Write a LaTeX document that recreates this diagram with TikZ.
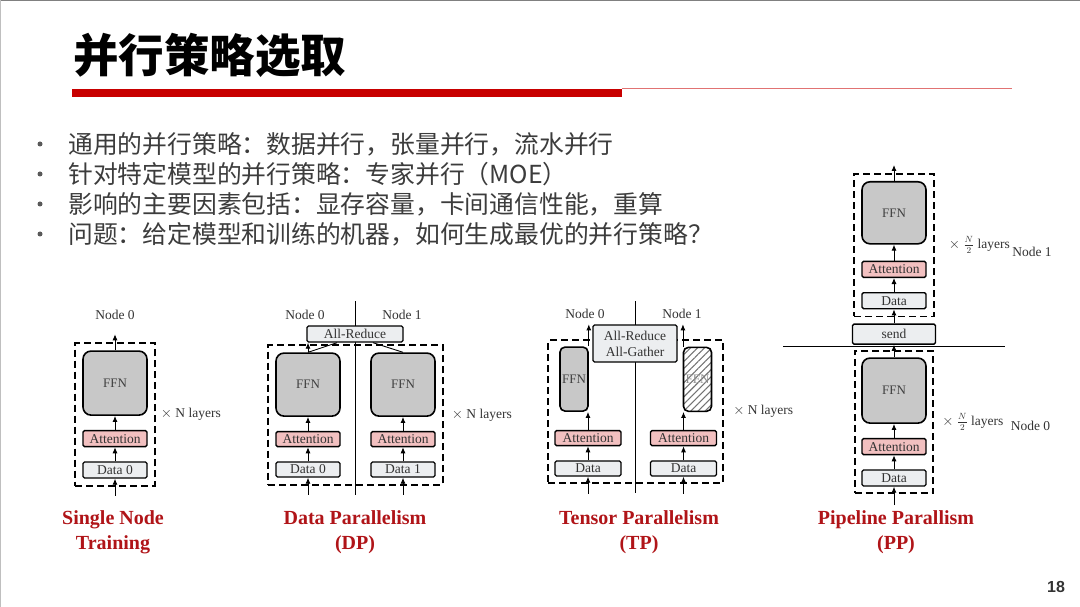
\documentclass[tikz,border=0pt]{standalone}
\usepackage{fontspec}
\usepackage{amsmath}
\setmainfont{Liberation Serif}
\newfontfamily\cjkfont{Noto Sans CJK SC}
\newfontfamily\numfont{Liberation Sans}
\usetikzlibrary{arrows.meta,positioning,fit,patterns.meta}
\definecolor{capred}{RGB}{176,20,24}
\definecolor{barred}{RGB}{200,0,0}
\definecolor{txtgray}{RGB}{60,60,60}
\definecolor{attpink}{RGB}{242,192,192}
\definecolor{ffngray}{RGB}{200,200,200}
\definecolor{datgray}{RGB}{236,238,240}

\begin{document}
\begin{tikzpicture}[
x=1pt, y=-1pt,
node distance=14pt,
lbl/.style={font=\fontsize{13.5}{15}\selectfont, text=black!80, inner sep=0pt},
ffn/.style={draw, line width=1.6pt, rounded corners=8pt, fill=ffngray, minimum width=64pt, minimum height=64pt, inner sep=0pt, font=\fontsize{13}{14}\selectfont, text=black!75},
att/.style={draw, line width=1.4pt, rounded corners=1.5pt, fill=attpink, minimum width=64pt, minimum height=16pt, inner sep=0pt, font=\fontsize{13.5}{16}\selectfont, text=black!80},
dat/.style={att, fill=datgray},
grp/.style={draw, line width=1.8pt, dash pattern=on 7pt off 4pt, inner sep=7pt},
arr/.style={-{Latex[length=6pt,width=5pt]}, line width=0.9pt},
sep/.style={line width=0.9pt},
figcap/.style={font=\fontsize{20}{25}\selectfont\bfseries, text=capred, align=center},
bul/.style={circle, fill=txtgray!85, inner sep=0pt, minimum size=5pt},
item/.style={font={\cjkfont\fontsize{24.8}{28}\selectfont}, text=txtgray, inner sep=0pt, anchor=west}
]
\useasboundingbox (0,0) rectangle (1080,607);
\draw[black!50, line width=1pt] (0,0.5) -- (1080,0.5);
\draw[black!25, line width=1pt] (0.5,0) -- (0.5,607);

\node[anchor=west, inner sep=0pt, font={\cjkfont\bfseries\fontsize{45.5}{48}\selectfont}] (title) at (73,55) {并行策略选取};
\fill[barred] (72,89) rectangle (622,97);
\draw[barred!55, line width=1pt] (622,88.5) -- (1012,88.5);

\foreach \txt [count=\i] in {通用的并行策略：数据并行，张量并行，流水并行, 针对特定模型的并行策略：专家并行（MOE）, 影响的主要因素包括：显存容量，卡间通信性能，重算, 问题：给定模型和训练的机器，如何生成最优的并行策略？}
{
\node[bul] (b\i) at (40,114+30*\i) {};
\node[item] (t\i) at (68,114+30*\i) {\txt};
}

\node[dat] (d0) at (115,470) {Data 0};
\node[att, above=of d0] (a0) {Attention};
\node[ffn, above=of a0] (f0) {FFN};
\node[grp, fit=(f0)(d0)] (g0) {};
\coordinate[below=17pt of d0] (i0);
\coordinate[above=16pt of f0] (o0);
\node[lbl] (n0) at (115,315) {Node 0};
\node[lbl, right=5pt of g0] (x0) {$\times$ N layers};
\draw[arr] (i0) -- (d0);
\draw[arr] (d0) -- (a0);
\draw[arr] (a0) -- (f0);
\draw[arr] (f0) -- (o0);
\node[figcap] (c0) at (113,532) {Single Node\\Training};

\coordinate (dpT) at (355,301);
\coordinate (dpB) at (355,495);
\draw[sep] (dpT) -- (dpB);
\node[dat, minimum height=15pt] (dA) at (308,469.5) {Data 0};
\node[att, minimum height=15pt, above=of dA] (aA) {Attention};
\node[ffn, minimum height=63pt, above=of aA] (fA) {FFN};
\node[dat, minimum height=15pt] (dB) at (403,469.5) {Data 1};
\node[att, minimum height=15pt, above=of dB] (aB) {Attention};
\node[ffn, minimum height=63pt, above=of aB] (fB) {FFN};
\node[grp, fit=(fA)(dA)(fB)(dB)] (gDP) {};
\node[dat, minimum width=96pt] (red) at (355,334) {All-Reduce};
\node[lbl] (nA) at (305,315) {Node 0};
\node[lbl] (nB) at (402,315) {Node 1};
\node[lbl, right=8pt of gDP] (xDP) {$\times$ N layers};
\coordinate[below=17pt of dA] (iA);
\coordinate[below=17pt of dB] (iB);
\draw[arr] (iA) -- (dA);
\draw[arr] (dA) -- (aA);
\draw[arr] (aA) -- (fA);
\draw[arr] (iB) -- (dB);
\draw[arr] (dB) -- (aB);
\draw[arr] (aB) -- (fB);
\draw[arr] (fA) -- (fA |- red.south);
\draw[sep] (fA.north) -- ([xshift=-18pt]red.south);
\draw[sep] (fB.north) -- ([xshift=18pt]red.south);
\node[figcap] (cDP) at (355,532) {Data Parallelism\\(DP)};

\coordinate (tpT) at (635,301);
\coordinate (tpB) at (635,493);
\draw[sep] (tpT) -- (tpB);
\node[dat, minimum width=66pt, minimum height=15pt] (tdA) at (588,468.5) {Data};
\node[att, minimum width=66pt, minimum height=15pt, above=of tdA] (taA) {Attention};
\node[ffn, minimum width=28pt, rounded corners=5pt, above=18pt of taA, xshift=-14pt] (tfA) {FFN};
\node[dat, minimum width=66pt, minimum height=15pt] (tdB) at (683.5,468.5) {Data};
\node[att, minimum width=66pt, minimum height=15pt, above=of tdB] (taB) {Attention};
\node[ffn, minimum width=28pt, rounded corners=5pt, above=18pt of taB, xshift=14pt, pattern={Lines[angle=45,distance=5pt,line width=1.1pt]}, pattern color=black!55, text=black!45] (tfB) {FFN};
\node[grp, inner sep=6pt, fit=(tfA)(tdA)(taB)(tdB)] (gTP) {};
\node[dat, minimum width=84pt, minimum height=37pt, align=center] (tred) at (635,343.5) {All-Reduce\\All-Gather};
\node[lbl] (tnA) at (585,314) {Node 0};
\node[lbl] (tnB) at (682,314) {Node 1};
\node[lbl, right=9pt of gTP] (xTP) {$\times$ N layers};
\coordinate[below=17pt of tdA] (tiA);
\coordinate[below=17pt of tdB] (tiB);
\draw[arr] (tiA) -- (tdA);
\draw[arr] (tdA) -- (taA);
\draw[arr] (taA) -- (taA |- tfA.south);
\draw[arr] (tiB) -- (tdB);
\draw[arr] (tdB) -- (taB);
\draw[arr] (taB) -- (taB |- tfB.south);
\draw[arr] (tfA.north east) -- (tfA.north east |- tred.north);
\draw[arr] (tfB.north west) -- (tfB.north west |- tred.north);
\node[figcap] (cTP) at (639,532) {Tensor Parallelism\\(TP)};

\node[dat] (pd0) at (894,478) {Data};
\node[att, above=of pd0] (pa0) {Attention};
\node[ffn, minimum height=65pt, above=of pa0] (pf0) {FFN};
\node[dat, minimum width=83pt, minimum height=20pt, above=12.5pt of pf0] (send) {send};
\node[dat, above=of send] (pd1) {Data};
\node[att, above=of pd1] (pa1) {Attention};
\node[ffn, minimum height=62pt, above=16pt of pa1] (pf1) {FFN};
\node[grp, inner sep=6.5pt, fit=(pf0)(pd0)] (gL) {};
\node[grp, fit=(pf1)(pd1)] (gU) {};
\coordinate (ppL) at (783,346.5);
\coordinate (ppR) at (1005,346.5);
\draw[sep] (ppL) -- (ppR);
\coordinate[below=11pt of gL.south] (pi);
\coordinate[above=16pt of pf1] (po);
\draw[arr] (pi) -- (pd0);
\draw[arr] (pd0) -- (pa0);
\draw[arr] (pa0) -- (pf0);
\draw[arr] (pf0) -- (send);
\draw[arr] (send) -- (pd1);
\draw[arr] (pd1) -- (pa1);
\draw[arr] (pa1) -- (pf1);
\draw[arr] (pf1) -- (po);
\node[lbl, right=14pt of gU] (lay1) {$\times$ $\frac{N}{2}$ layers};
\node[lbl, anchor=base west] (pn1) at ([xshift=2pt,yshift=-8pt]lay1.base east) {Node 1};
\node[lbl, right=8pt of gL] (lay0) {$\times$ $\frac{N}{2}$ layers};
\node[lbl, anchor=base west] (pn0) at ([xshift=7pt,yshift=-5pt]lay0.base east) {Node 0};
\node[figcap] (cPP) at (896,532) {Pipeline Parallism\\(PP)};

\node[font={\numfont\bfseries\fontsize{16}{18}\selectfont}, text=black!80, inner sep=0pt] (pg) at (1056,587) {18};
\end{tikzpicture}
\end{document}
